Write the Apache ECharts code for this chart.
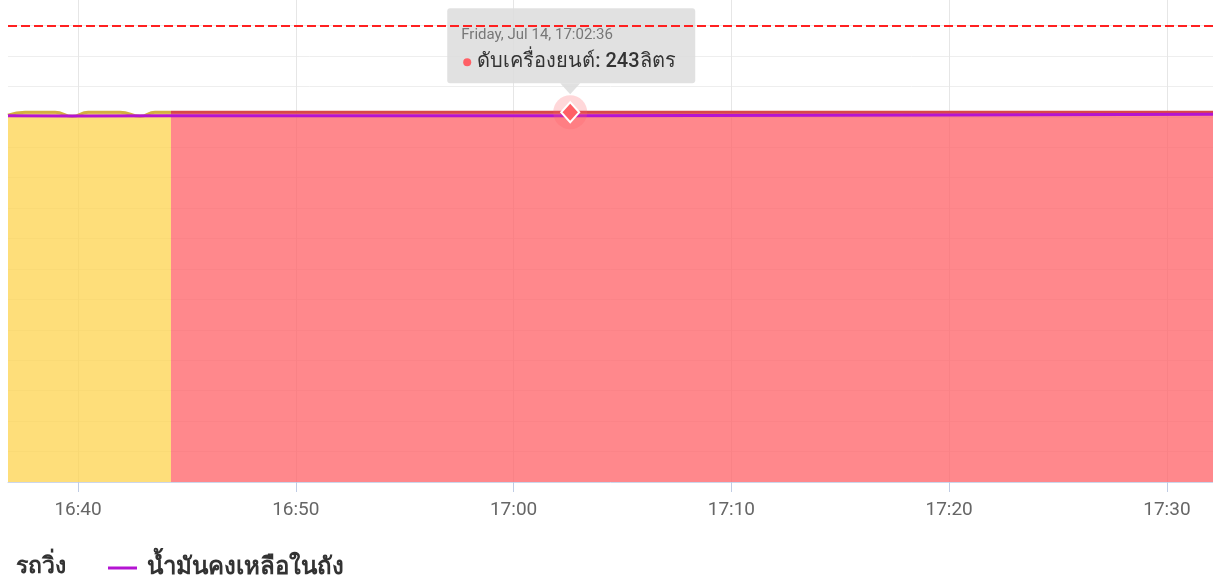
<!DOCTYPE html>
<html>
<head>
<meta charset="utf-8">
<script src="https://cdn.jsdelivr.net/npm/echarts@6/dist/echarts.min.js"></script>
<style>
html, body { margin: 0; padding: 0; background: #fff; }
#chart { width: 1213px; height: 583px; }
</style>
</head>
<body>
<div id="chart"></div>
<script>
// วันที่ของข้อมูล
var day = '2023-07-14';
var axisStart = '16:36:47';
var axisEnd = '17:32:07';

// รถวิ่ง
var runTimes = ['16:36:47', '16:37:34', '16:38:57', '16:39:44', '16:40:28', '16:41:56', '16:42:51', '16:43:32', '16:44:16'];
var runFuel = [241.0, 243.0, 243.0, 240.3, 243.0, 243.0, 240.3, 243.0, 243.0];

// ดับเครื่องยนต์
var offTimes = ['16:44:16', '17:02:36', '17:32:30'];
var offFuel = [243, 243, 243];

// น้ำมันคงเหลือในถัง
var fuelTimes = ['16:36:47', '16:39:44', '16:44:16', '17:02:36', '17:20:00', '17:32:30'];
var fuelLeft = [240.7, 240.5, 240.7, 240.7, 241.1, 241.6];

var tankCapacity = 300;
var tipTime = '17:02:36';
var tipValue = 243;

var font = "Roboto, 'Noto Sans', sans-serif";

function toMs(t) {
    return new Date(day + 'T' + t).getTime();
}
function pairs(times, vals) {
    return times.map(function (t, i) { return [toMs(t), vals[i]]; });
}

var chart = echarts.init(document.getElementById('chart'), null, {renderer: 'canvas'});

var option = {
    animation: false,
    grid: {left: 8, right: 0, top: -5, bottom: 101, outerBoundsMode: 'none', containLabel: false},
    xAxis: {
        type: 'time',
        min: toMs(axisStart),
        max: toMs(axisEnd),
        // a little over 10 minutes so the time scale settles on 10-minute steps
        minInterval: 660000,
        maxInterval: 660000,
        axisLine: {lineStyle: {color: '#ccd6eb', width: 1}},
        axisTick: {show: true, length: 10, lineStyle: {color: '#c0cce4'}},
        axisLabel: {
            showMinLabel: false, showMaxLabel: false,
            formatter: '{HH}:{mm}', color: '#666', fontSize: 19, fontFamily: font, margin: 19
        },
        splitLine: {show: true, showMinLine: false, showMaxLine: false, lineStyle: {color: '#e6e6e6'}}
    },
    yAxis: {
        type: 'value',
        min: 0, max: 320, interval: 20,
        axisLine: {show: false},
        axisTick: {show: false},
        axisLabel: {show: false},
        splitLine: {lineStyle: {color: '#eeeeee'}}
    },
    legend: [
        {
            data: [{name: 'รถวิ่ง', icon: 'none'}],
            left: 11, top: 556, padding: 0,
            itemWidth: 0, itemHeight: 3, selectedMode: false,
            textStyle: {fontSize: 23, fontWeight: 'bold', color: '#333', fontFamily: font}
        },
        {
            data: ['น้ำมันคงเหลือในถัง'],
            left: 108, top: 556, padding: 0,
            icon: 'rect', itemWidth: 29, itemHeight: 3, selectedMode: false,
            textStyle: {fontSize: 24, fontWeight: 'bold', color: '#333', fontFamily: font, padding: [0, 0, 0, 5]}
        }
    ],
    series: [
        {
            name: 'รถวิ่ง',
            type: 'line',
            data: pairs(runTimes, runFuel),
            smooth: 0.5,
            showSymbol: false,
            silent: true,
            itemStyle: {color: '#fed34e'},
            lineStyle: {color: '#d4af3f', width: 3},
            areaStyle: {color: 'rgba(254,211,78,0.75)', opacity: 1}
        },
        {
            name: 'ดับเครื่องยนต์',
            type: 'line',
            data: pairs(offTimes, offFuel),
            showSymbol: false,
            silent: true,
            itemStyle: {color: '#ff6066'},
            lineStyle: {color: '#d84848', width: 3},
            areaStyle: {color: 'rgba(255,96,102,0.75)', opacity: 1},
            markPoint: {
                silent: true,
                label: {show: false},
                data: [
                    {coord: [toMs(tipTime), tipValue], symbol: 'circle', symbolSize: 34,
                        itemStyle: {color: 'rgba(255,96,102,0.25)'}},
                    {coord: [toMs(tipTime), tipValue], symbol: 'diamond', symbolSize: [18, 20],
                        itemStyle: {color: '#ff6066', borderColor: '#fff', borderWidth: 2}}
                ]
            }
        },
        {
            name: 'น้ำมันคงเหลือในถัง',
            type: 'line',
            data: pairs(fuelTimes, fuelLeft),
            showSymbol: false,
            silent: true,
            itemStyle: {color: '#b414d2'},
            lineStyle: {color: '#b414d2', width: 3},
            markLine: {
                silent: true,
                symbol: 'none',
                label: {show: false},
                lineStyle: {color: '#ff2020', width: 2, type: [9, 4]},
                data: [{yAxis: tankCapacity}]
            }
        }
    ]
};

chart.setOption(option);

// กล่อง tooltip ที่จุด 17:02:36
var p = chart.convertToPixel({seriesIndex: 1}, [toMs(tipTime), tipValue]);
var tipHead = echarts.time.format(toMs(tipTime), '{eeee}, {MMM} {d}, {HH}:{mm}:{ss}', false);
var tipBody = 'ดับเครื่องยนต์: ' + tipValue + 'ลิตร';

chart.setOption({
    graphic: [{
        type: 'group',
        x: p[0], y: p[1],
        silent: true,
        z: 100,
        children: [
            {type: 'rect', shape: {x: -123, y: -104, width: 248, height: 75, r: 3},
                style: {fill: 'rgba(221,221,221,0.88)'}},
            {type: 'polygon', shape: {points: [[-10, -29], [10, -29], [0, -18]]},
                style: {fill: 'rgba(221,221,221,0.88)'}},
            {type: 'text', x: -109, y: -77,
                style: {text: tipHead, fill: '#777', font: '15px ' + font, verticalAlign: 'middle'}},
            {type: 'circle', shape: {cx: -103, cy: -50, r: 4}, style: {fill: '#ff6066'}},
            {type: 'text', x: -93, y: -50,
                style: {text: tipBody, fill: '#333', font: '500 20px ' + font, verticalAlign: 'middle'}}
        ]
    }]
});
</script>
</body>
</html>
